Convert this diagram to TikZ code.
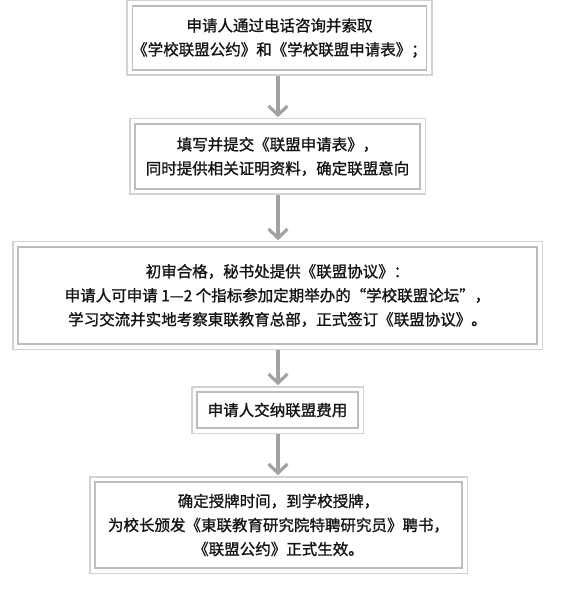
\documentclass[tikz,border=0pt]{standalone}
\usepackage{fontspec}
\newfontfamily\cjk[FakeBold=1.2]{Noto Sans CJK SC}
\usetikzlibrary{arrows.meta,fit}
\definecolor{outerc}{HTML}{D2D2D2}
\definecolor{innerc}{HTML}{BDBDBD}
\definecolor{arrowc}{HTML}{A2A2A2}
\definecolor{txt}{HTML}{141414}
\tikzset{
  inbox/.style={draw=innerc, line width=1.3pt, align=center, inner sep=0pt,
    font=\cjk\fontsize{15.5}{24}\selectfont, text=txt},
  outbox/.style={draw=outerc, line width=1.3pt, inner sep=4.5pt},
  flow/.style={draw=arrowc, line width=3.2pt,
    -{Straight Barb[length=9pt,width=19pt,line width=3.2pt]}, shorten >=1pt}
}
\begin{document}
\begin{tikzpicture}[x=1pt,y=-1pt]
\useasboundingbox (0,0) rectangle (560,593);
\node[inbox, minimum width=289pt, minimum height=64pt] (b1) at (279.5,38)
  {申请人通过电话咨询并索取\\《学校联盟公约》和《学校联盟申请表》；};
\node[inbox, minimum width=285pt, minimum height=65pt] (b2) at (277.5,156.5)
  {填写并提交《联盟申请表》，\\同时提供相关证明资料，确定联盟意向};
\node[inbox, minimum width=519pt, minimum height=97pt] (b3) at (277.5,295.5)
  {初审合格，秘书处提供《联盟协议》：\\申请人可申请 1—2 个指标参加定期举办的“学校联盟论坛”，\\学习交流并实地考察東联教育总部，正式签订《联盟协议》。};
\node[inbox, minimum width=161pt, minimum height=36pt] (b4) at (277.5,410)
  {申请人交纳联盟费用};
\node[inbox, minimum width=367pt, minimum height=86pt] (b5) at (278.5,525)
  {确定授牌时间，到学校授牌，\\为校长颁发《東联教育研究院特聘研究员》聘书，\\《联盟公约》正式生效。};
\node[outbox, fit=(b1)] (o1) {};
\node[outbox, fit=(b2)] (o2) {};
\node[outbox, fit=(b3)] (o3) {};
\node[outbox, fit=(b4)] (o4) {};
\node[outbox, fit=(b5)] (o5) {};
\draw[flow] (o1.south -| 278,0) -- (o2.north -| 278,0);
\draw[flow] (o2.south -| 278,0) -- (o3.north -| 278,0);
\draw[flow] (o3.south -| 278,0) -- (o4.north -| 278,0);
\draw[flow] (o4.south -| 278,0) -- (o5.north -| 278,0);
\end{tikzpicture}
\end{document}
